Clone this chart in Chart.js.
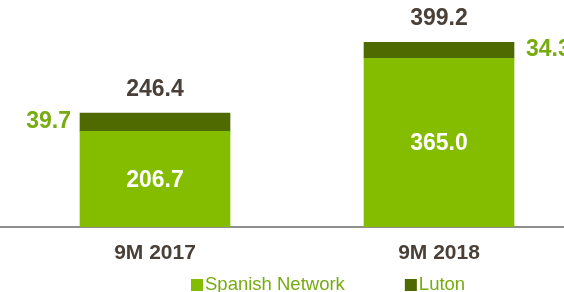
<!DOCTYPE html>
<html>
<head>
<meta charset="utf-8">
<script src="https://cdn.jsdelivr.net/npm/chart.js@4/dist/chart.umd.min.js"></script>
<style>
    html, body { margin: 0; padding: 0; background: #ffffff; }
    #wrap { width: 564px; height: 292px; }
</style>
</head>
<body>
<div id="wrap"><canvas id="chart" width="564" height="292"></canvas></div>
<script>
// Dữ liệu biểu đồ
const categories = ['9M 2017', '9M 2018'];
const seriesNames = ['Spanish Network', 'Luton'];
const spanishNetwork = [206.7, 365.0];
const luton = [39.7, 34.3];
const totals = [246.4, 399.2];

const FONT = '"Liberation Sans", Arial, sans-serif';
const LIGHT_GREEN = '#84bd00';
const DARK_GREEN = '#4e6a00';
const TEXT_DARK = '#4a4038';
const TEXT_GREEN = '#77ab10';

// Nhãn giá trị trên các cột
const barLabels = {
    id: 'barLabels',
    afterDatasetsDraw(chart) {
        const ctx = chart.ctx;
        const baseMeta = chart.getDatasetMeta(0);
        const topMeta = chart.getDatasetMeta(1);
        ctx.save();
        ctx.font = 'bold 23px ' + FONT;

        // Giá trị bên trong cột xanh nhạt
        ctx.fillStyle = '#ffffff';
        ctx.textAlign = 'center';
        ctx.textBaseline = 'middle';
        baseMeta.data.forEach((bar, i) => {
            ctx.fillText(spanishNetwork[i].toFixed(1), bar.x, (bar.y + bar.base) / 2 + 1);
        });

        topMeta.data.forEach((bar, i) => {
            const mid = (bar.y + bar.base) / 2 - 1;
            const half = bar.width / 2;

            // Luton: cột đầu ghi bên trái, cột sau ghi bên phải
            ctx.fillStyle = TEXT_GREEN;
            ctx.textBaseline = 'middle';
            if (i === 0) {
                ctx.textAlign = 'right';
                ctx.fillText(luton[i].toFixed(1), bar.x - half - 9, mid);
            } else {
                ctx.textAlign = 'left';
                ctx.fillText(luton[i].toFixed(1), bar.x + half + 12, mid);
            }

            // Tổng cộng phía trên cột
            ctx.fillStyle = TEXT_DARK;
            ctx.textAlign = 'center';
            ctx.textBaseline = 'alphabetic';
            ctx.fillText(totals[i].toFixed(1), bar.x, bar.y - 17);
        });
        ctx.restore();
    }
};

// Chú thích ở dưới cùng
const bottomLegend = {
    id: 'bottomLegend',
    afterDraw(chart) {
        const ctx = chart.ctx;
        const colors = [LIGHT_GREEN, DARK_GREEN];
        ctx.save();
        ctx.font = '18.5px ' + FONT;
        ctx.textAlign = 'left';
        ctx.textBaseline = 'alphabetic';
        let x = 191;
        const boxTop = chart.height - 13;
        seriesNames.forEach((name, i) => {
            ctx.fillStyle = colors[i];
            ctx.fillRect(x, boxTop, 12, 12);
            ctx.fillStyle = TEXT_GREEN;
            ctx.fillText(name, x + 14, chart.height - 2);
            x += 14 + ctx.measureText(name).width + 60;
        });
        ctx.restore();
    }
};

const datasets = [
    {
        label: seriesNames[0],
        data: spanishNetwork.map((v, i) => ({ x: i, y: v })),
        backgroundColor: LIGHT_GREEN
    },
    {
        label: seriesNames[1],
        data: luton.map((v, i) => ({ x: i, y: v })),
        backgroundColor: DARK_GREEN
    }
];

new Chart(document.getElementById('chart'), {
    type: 'bar',
    data: { datasets: datasets },
    options: {
        responsive: false,
        animation: false,
        layout: { padding: 0 },
        datasets: { bar: { barThickness: 150, borderWidth: 0 } },
        scales: {
            x: {
                type: 'linear',
                stacked: true,
                offset: false,
                bounds: 'data',
                min: -0.5458,
                max: 1.4401,
                afterBuildTicks: function(scale) {
                    scale.ticks = categories.map((c, i) => ({ value: i }));
                },
                afterFit: function(scale) {
                    scale.height = 65;
                    scale.paddingLeft = 0;
                    scale.paddingRight = 0;
                },
                grid: { display: false, drawTicks: false, offset: false },
                border: { display: true, color: '#8f8f8f', width: 2 },
                ticks: {
                    autoSkip: false,
                    maxRotation: 0,
                    padding: 14,
                    color: TEXT_DARK,
                    font: { family: FONT, size: 21, weight: 'bold' },
                    callback: function(value) {
                        return categories[value];
                    }
                }
            },
            y: {
                stacked: true,
                display: false,
                min: 0,
                max: 491
            }
        },
        plugins: {
            legend: { display: false },
            tooltip: { enabled: false }
        }
    },
    plugins: [barLabels, bottomLegend]
});
</script>
</body>
</html>
